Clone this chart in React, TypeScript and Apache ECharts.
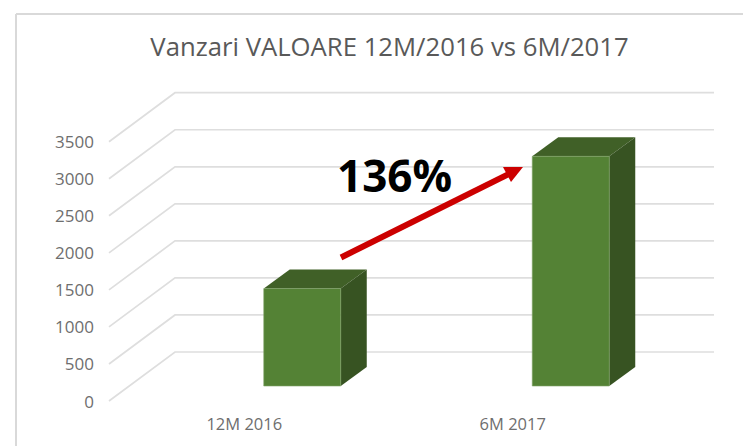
import React, { useEffect, useRef } from "react";
import * as echarts from "echarts";

const TITLE = "Vanzari VALOARE 12M/2016 vs 6M/2017";
const categories = ["12M 2016", "6M 2017"];
const salesValues = [1315, 3100];
const yTicks = [0, 500, 1000, 1500, 2000, 2500, 3000, 3500];
const growthLabel = "136%";

export default function App() {
  const ref = useRef<HTMLDivElement>(null);
  useEffect(() => {
    document.body.style.margin = "0";
    const chart = echarts.init(ref.current!, undefined, { renderer: "svg" });
    const font = "'Open Sans', sans-serif";

    const renderWall = (params: any, api: any) => {
      const y = api.coord([0, api.value(1)])[1];
      const x0 = params.coordSys.x - 1;
      return {
        type: "polyline",
        shape: { points: [[x0, y], [x0 + 66, y - 49], [714, y - 49]] },
        style: { fill: "none", stroke: "#dedede", lineWidth: 1.7 },
        silent: true,
      };
    };

    const renderBar = (_: any, api: any) => {
      const [cx, top] = api.coord([api.value(0), api.value(1)]);
      const [, base] = api.coord([api.value(0), 0]);
      const xl = cx + 58 - 38.5;
      const xr = cx + 58 + 38.5;
      const yt = top - 15;
      const yb = base - 15;
      const dx = 26;
      const dy = 19;
      return {
        type: "group",
        children: [
          {
            type: "polygon",
            shape: { points: [[xl, yt], [xl + dx, yt - dy], [xr + dx, yt - dy], [xr, yt]] },
            style: { fill: "#406027" },
          },
          {
            type: "polygon",
            shape: { points: [[xr, yt], [xr + dx, yt - dy], [xr + dx, yb - dy], [xr, yb]] },
            style: { fill: "#375322" },
          },
          {
            type: "rect",
            shape: { x: xl, y: yt, width: xr - xl, height: yb - yt },
            style: { fill: "#548235", stroke: "#7fa368", lineWidth: 0.6 },
          },
        ],
      };
    };

    chart.setOption({
      animation: false,
      backgroundColor: "#ffffff",
      title: {
        text: TITLE,
        left: 384.5,
        top: 28,
        textAlign: "center",
        textStyle: { fontFamily: font, fontSize: 25.7, fontWeight: "normal", color: "#595959" },
      },
      grid: { left: 110, width: 537, top: 141.7, height: 259.3 },
      xAxis: {
        type: "category",
        data: categories,
        axisLine: { show: false },
        axisTick: { show: false },
        axisLabel: { margin: 14, fontFamily: font, fontSize: 16.5, color: "#6e6e6e" },
      },
      yAxis: {
        type: "value",
        min: 0,
        max: 3500,
        interval: 500,
        splitLine: { show: false },
        axisLine: { show: false },
        axisTick: { show: false },
        axisLabel: {
          margin: 16,
          fontFamily: font,
          fontSize: 17,
          color: "#6e6e6e",
          padding: [2, 0, 0, 0],
          formatter: (v: number) => String(v),
        },
      },
      series: [
        {
          type: "custom",
          name: "walls",
          renderItem: renderWall,
          data: yTicks.map((t) => [0, t]),
          silent: true,
          z: 1,
        },
        {
          type: "custom",
          name: "Vanzari",
          renderItem: renderBar,
          data: categories.map((_, i) => [i, salesValues[i]]),
          z: 2,
        },
      ],
      graphic: [
        { type: "line", shape: { x1: 16, y1: 14, x2: 743, y2: 14 }, style: { stroke: "#d9d9d9", lineWidth: 2 } },
        { type: "line", shape: { x1: 16, y1: 14, x2: 16, y2: 446 }, style: { stroke: "#d9d9d9", lineWidth: 2 } },
        { type: "line", shape: { x1: 341, y1: 257.5, x2: 510, y2: 173.5 }, style: { stroke: "#cc0000", lineWidth: 6 }, z: 10 },
        { type: "polygon", shape: { points: [[523, 167], [503, 167], [511, 182]] }, style: { fill: "#cc0000" }, z: 10 },
        {
          type: "text",
          x: 337,
          y: 175,
          style: {
            text: growthLabel,
            fontFamily: font,
            fontSize: 44,
            fontWeight: "bold",
            fill: "#000000",
            textVerticalAlign: "middle",
          },
          z: 11,
        },
      ],
    });
    return () => chart.dispose();
  }, []);
  return <div ref={ref} style={{ width: 743, height: 446 }} />;
}
